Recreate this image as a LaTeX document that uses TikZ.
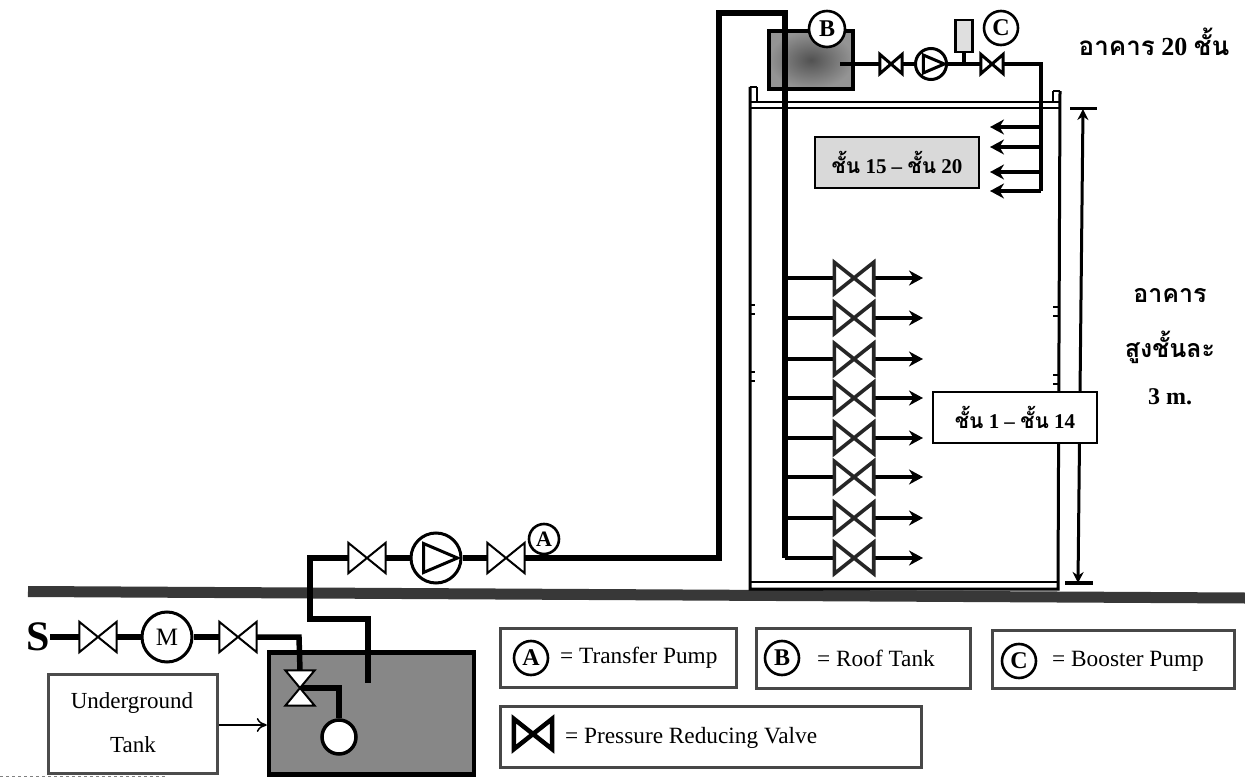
\documentclass[tikz,border=0pt]{standalone}
\usepackage{fontspec}
\setmainfont{Liberation Serif}
\newfontfamily\thaifont[Script=Thai]{Loma}
\usetikzlibrary{arrows.meta,shadings}
\definecolor{tankgray}{gray}{0.53}
\definecolor{bandgray}{gray}{0.22}
\definecolor{legendedge}{gray}{0.28}
\pgfdeclarelayer{base}
\pgfdeclarelayer{pipes}
\pgfsetlayers{base,pipes,main}
\tikzset{
  pipe/.style={line width=5.5pt,black,line join=miter},
  thinpipe/.style={line width=4.5pt,black,line join=miter},
  branch/.style={line width=4pt,black},
  vnode/.style={rectangle,inner sep=0pt,draw=none},
  bow/.style={line width=2pt,fill=white,draw=black,line join=miter},
  smallbow/.style={line width=3pt,fill=white,draw=black,line join=miter},
  prv/.style={line width=3.6pt,fill=white,draw=black!85,line join=miter},
  keyprv/.style={line width=4.5pt,fill=white,draw=black,line join=miter},
  pumpc/.style={circle,draw=black,line width=3pt,fill=white,inner sep=0pt},
  tag/.style={circle,draw=black,line width=2.6pt,fill=white,inner sep=0pt,minimum size=34pt,font=\fontsize{24}{26}\selectfont\bfseries},
  legendbox/.style={draw=legendedge,line width=3pt,fill=white,inner sep=0pt},
  legendtext/.style={anchor=west,inner sep=0pt,font=\fontsize{23.3}{26}\selectfont},
  wall/.style={line width=3pt,black},
  headarrow/.style={-{Stealth[length=14pt,width=15pt]}},
  floorbox/.style={minimum width=164pt,minimum height=51pt,inner sep=0pt,font=\fontsize{21}{23}\selectfont\bfseries},
  gaugebox/.style={draw=black,line width=2.4pt,fill=gray!25,minimum width=17pt,minimum height=32pt,inner sep=0pt},
  caption/.style={inner sep=0pt,font=\fontsize{25}{30}\selectfont\bfseries},
  tanktext/.style={inner sep=0pt,font=\fontsize{23}{25}\selectfont},
}
\newcommand{\VLV}[6][bow]{%
  \node[vnode,minimum width=#5pt,minimum height=#6pt] (#2) at (#3,#4) {};
  \draw[#1] (#2.north west) -- (#2.south east) -- (#2.north east) -- (#2.south west) -- cycle;}
\newcommand{\PMP}[4]{%
  \node[pumpc,minimum size=#4pt*2] (#1) at (#2,#3) {};
  \draw[line width=3pt,line join=miter] (#1.center) ++(-#4*0.5,-#4*0.58) -- ++(0,#4*1.16) -- ++(#4*1.36,-#4*0.58) -- cycle;}
\begin{document}
\begin{tikzpicture}[x=1pt,y=-1pt]
\useasboundingbox (0,0) rectangle (1245,778);
\begin{pgfonlayer}{base}
\fill[white] (0,0) rectangle (1245,778);
% ground
\coordinate (gl) at (28,591.5);
\coordinate (gr) at (1245,598);
\draw[line width=11pt,bandgray] (gl) -- (gr);
\draw[dashed,gray,line width=1pt] (0,776.5) -- (165,776.5);
% building
\draw[wall] (750,87) -- (750,589) -- (1058,589) -- (1060,91);
\draw[line width=2.4pt] (750,102) -- (1060,102);
\draw[line width=2.4pt] (750,108) -- (1060,108);
\draw[line width=2.4pt] (750,582) -- (1058,582);
\draw[line width=2.4pt] (757,87) -- (757,102);
\draw[line width=2.4pt] (1053,91) -- (1053,102);
\draw[line width=2.4pt] (750,87) -- (757,87);
\draw[line width=2.4pt] (1053,91) -- (1060,91);
\foreach \yy in {310,377}{\draw[line width=2pt] (750,\yy-5) -- (755,\yy-5) (750,\yy+4) -- (755,\yy+4);}
\foreach \yy in {312,380}{\draw[line width=2pt] (1053,\yy-5) -- (1058,\yy-5) (1053,\yy+4) -- (1058,\yy+4);}
% dimension
\coordinate (dt) at (1083,109);
\coordinate (db) at (1078,583);
\draw[line width=3pt,{Stealth[length=11pt,width=11pt]}-{Stealth[length=11pt,width=11pt]}] (dt) -- (db);
\draw[line width=3pt] ([xshift=-13pt]dt) -- ([xshift=14pt]dt);
\draw[line width=3.5pt] ([xshift=-13pt]db) -- ([xshift=15pt]db);
% tanks
\node[draw=black,line width=4pt,inner color=black!68,outer color=black!42,minimum width=84pt,minimum height=58pt,inner sep=0pt] (roof) at (811,60) {};
\node[draw=black,line width=4.5pt,fill=tankgray,minimum width=205pt,minimum height=122pt,inner sep=0pt] (ugt) at (371.5,713.5) {};
\end{pgfonlayer}
% transfer line
\VLV{vA1}{367}{558}{37}{30}
\PMP{pA}{436}{558}{25}
\VLV{vA2}{506}{558}{37}{30}
\coordinate (c1) at (310,558);
\coordinate (c2) at (310,619);
\coordinate (c3) at (368,619);
\coordinate (c4) at (368,683);
\coordinate (r1) at (719,558);
\coordinate (r2) at (719,13);
\coordinate (r3) at (785,13);
\coordinate (r4) at (785,558);
\begin{pgfonlayer}{pipes}
\draw[pipe] (vA1.west) -- (c1) -- (c2) -- (c3) -- (c4);
\draw[pipe] (vA1.east) -- (pA);
\draw[pipe] (pA) -- (vA2.west);
\draw[pipe] (vA2.east) -- (r1) -- (r2) -- (r3) -- (r4);
\end{pgfonlayer}
\node[tag,minimum size=30pt,font=\fontsize{22}{24}\selectfont\bfseries] (tA) at (544,539) {A};
% booster line
\coordinate (tout) at (840,64);
\VLV[smallbow]{vB1}{891}{64}{22}{19}
\PMP{pB}{931}{64}{15.5}
\VLV[smallbow]{vB2}{992}{64}{22}{19}
\node[gaugebox] (gauge) at (964,36) {};
\coordinate (gfoot) at (964,64);
\coordinate (dn1) at (1041,64);
\coordinate (dn2) at (1041,191);
\begin{pgfonlayer}{pipes}
\draw[thinpipe] (tout) -- (vB1.west);
\draw[thinpipe] (vB1.east) -- (pB);
\draw[thinpipe] (pB) -- (vB2.west);
\draw[thinpipe] (gauge) -- (gfoot);
\draw[thinpipe] (vB2.east) -- (dn1) -- (dn2);
\end{pgfonlayer}
\node[tag,minimum size=36pt] (tB) at (827,29) {B};
\node[tag] (tC) at (1001,28) {C};
% upper floors arrows
\begin{pgfonlayer}{pipes}
\foreach \i/\yy in {1/127,2/147,3/172,4/191}{
  \coordinate (us\i) at (1041,\yy);
  \coordinate (ue\i) at (990,\yy);
  \draw[line width=4pt,headarrow] (us\i) -- (ue\i);
}
\end{pgfonlayer}
\node[draw=black,line width=2.4pt,fill=gray!30,floorbox] (upper) at (897,162.5) {{\thaifont ชั้น} 15 -- {\thaifont ชั้น} 20};
% lower floors
\foreach \i/\yy in {1/278,2/318,3/359,4/398,5/438,6/477,7/518,8/558}{
  \coordinate (ls\i) at (785,\yy);
  \coordinate (le\i) at (923,\yy);
  \VLV[prv]{pv\i}{854}{\yy}{39}{31}
  \begin{pgfonlayer}{pipes}
  \draw[branch] (ls\i) -- (pv\i.west);
  \draw[branch,headarrow] (pv\i.east) -- (le\i);
  \end{pgfonlayer}
}
\node[draw=black,line width=2.2pt,fill=white,floorbox] (lower) at (1015,417.5) {{\thaifont ชั้น} 1 -- {\thaifont ชั้น} 14};
% supply
\node[inner sep=0pt,font=\fontsize{42}{44}\selectfont\bfseries] (S) at (38,637) {S};
\VLV{vS1}{98}{637}{37}{30}
\node[pumpc,minimum size=50pt,font=\fontsize{25}{27}\selectfont] (M) at (167,637) {M};
\VLV{vS2}{238}{637}{37}{30}
\coordinate (f1) at (299,637);
\node[vnode,minimum width=29pt,minimum height=35pt] (fv) at (300,688) {};
\coordinate (fb) at (339,688);
\node[circle,draw=black,line width=3.5pt,fill=white,inner sep=0pt,minimum size=34pt] (ball) at (339,737) {};
\begin{pgfonlayer}{pipes}
\draw[pipe] (S.east) -- (vS1.west);
\draw[pipe] (vS1.east) -- (M);
\draw[pipe] (M) -- (vS2.west);
\draw[pipe] (vS2.east) -- (f1) -- (fv.north);
\draw[pipe] (fv.center) -- (fb) -- (ball.north);
\end{pgfonlayer}
\draw[line width=2pt,fill=white,draw=black,line join=miter] (fv.north west) -- (fv.north east) -- (fv.south west) -- (fv.south east) -- cycle;
\node[draw=black!70,line width=3pt,fill=white,minimum width=169pt,minimum height=99pt,inner sep=0pt] (ubox) at (132.5,723.5) {};
\node[tanktext] (u1) at (132,703) {Underground};
\node[tanktext] (u2) at (133,745) {Tank};
\draw[line width=1.5pt,-{To[length=10pt,width=14pt]}] (ubox.east |- 0,725) -- (ugt.west |- 0,725);
% legend
\node[legendbox,minimum width=236pt,minimum height=59pt] (lA) at (618,657.5) {};
\node[tag] (kA) at (531,658) {A};
\node[legendtext] (kAt) at (560,658) {= Transfer Pump};
\node[legendbox,minimum width=214pt,minimum height=60pt] (lB) at (863,658) {};
\node[tag] (kB) at (782,658) {B};
\node[legendtext] (kBt) at (817,658) {= Roof Tank};
\node[legendbox,minimum width=242pt,minimum height=58pt] (lC) at (1113,659) {};
\node[tag] (kC) at (1019,661) {C};
\node[legendtext] (kCt) at (1052,661) {= Booster Pump};
\node[legendbox,minimum width=421pt,minimum height=61pt] (lV) at (710.5,736.5) {};
\VLV[keyprv]{kV}{533}{734}{38}{30}
\node[legendtext] (kVt) at (565,738) {= Pressure Reducing Valve};
% captions
\node[caption,font=\fontsize{26}{30}\selectfont\bfseries] (h1) at (1154,42) {{\thaifont อาคาร} 20 {\thaifont ชั้น}};
\node[caption] (h2) at (1170,296) {\thaifont อาคาร};
\node[caption] (h3) at (1170,347) {\thaifont สูงชั้นละ};
\node[caption,font=\fontsize{24}{28}\selectfont\bfseries] (h4) at (1170,397) {3 m.};
\end{tikzpicture}
\end{document}
